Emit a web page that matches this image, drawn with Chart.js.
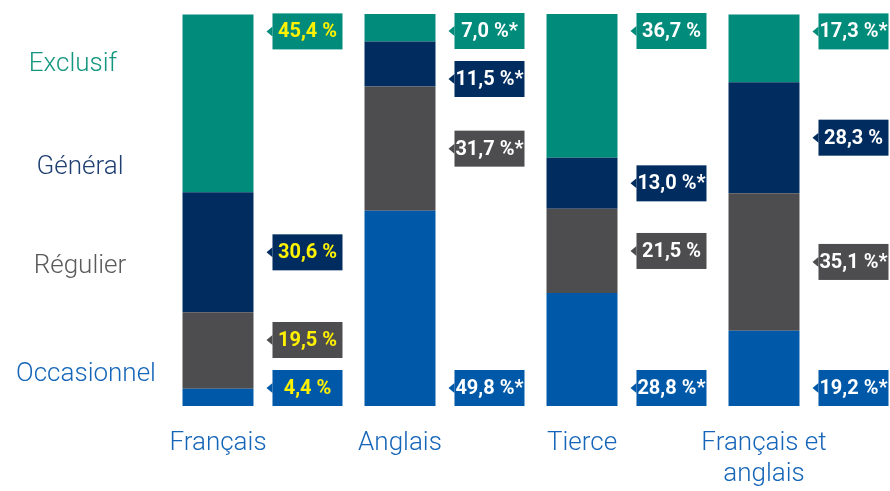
<!DOCTYPE html>
<html lang="fr">
<head>
<meta charset="utf-8">
<script src="https://cdn.jsdelivr.net/npm/chart.js@4.4.1/dist/chart.umd.min.js"></script>
<style>
    html, body { margin: 0; padding: 0; background: #fff; }
    #wrap { width: 890px; height: 491px; position: relative; }
</style>
</head>
<body>
<div id="wrap"><canvas id="chart"></canvas></div>
<script>
// Data
const categories = [['Français'], ['Anglais'], ['Tierce'], ['Français et', 'anglais']];
const seriesNames = ['Occasionnel', 'Régulier', 'Général', 'Exclusif'];
const occasionnel = [4.4, 49.8, 28.8, 19.2];
const regulier = [19.5, 31.7, 21.5, 35.1];
const general = [30.6, 11.5, 13.0, 28.3];
const exclusif = [45.4, 7.0, 36.7, 17.3];
// asterisk flags on the value labels
const occasionnelStar = [false, true, true, true];
const regulierStar = [false, true, false, true];
const generalStar = [false, true, true, false];
const exclusifStar = [false, true, false, true];

const colors = ['#0059a8', '#4d4d4f', '#002c5f', '#008b7b'];
const textColors = ['#1565b8', '#5a5a5c', '#1f3f73', '#13967f'];
const stars = [occasionnelStar, regulierStar, generalStar, exclusifStar];

function fmt(v, star) {
    return v.toFixed(1).replace('.', ',') + ' %' + (star ? '*' : '');
}

// Callout boxes to the right of each bar + series names on the left
const calloutPlugin = {
    id: 'callouts',
    afterDatasetsDraw(chart) {
        const ctx = chart.ctx;
        const boxW = 70, boxH = 36, gap = 12;

        for (let i = 0; i < categories.length; i++) {
            const bars = chart.data.datasets.map((ds, d) => chart.getDatasetMeta(d).data[i]);
            // centers, from top (Exclusif) to bottom (Occasionnel)
            const top = bars[3].y;
            const bottom = bars[0].base;
            const c = [];
            c[3] = top - 1 + boxH / 2;
            c[2] = (bars[2].y + bars[2].base) / 2;
            c[1] = (bars[1].y + bars[1].base) / 2;
            c[0] = bottom - boxH / 2;
            // push down from the top
            for (let d = 2; d >= 1; d--) {
                if (c[d] - boxH / 2 < c[d + 1] + boxH / 2 + gap) c[d] = c[d + 1] + boxH + gap;
            }
            // push up from the bottom
            for (let d = 1; d <= 2; d++) {
                if (c[d] + boxH / 2 > c[d - 1] - boxH / 2 - gap) c[d] = c[d - 1] - boxH - gap;
            }

            const bx = bars[0].x + bars[0].width / 2 + 19;
            for (let d = 0; d < 4; d++) {
                const cy = c[d];
                ctx.save();
                ctx.fillStyle = colors[d];
                ctx.fillRect(bx, cy - boxH / 2, boxW, boxH);
                ctx.beginPath();
                ctx.moveTo(bx, cy - 5);
                ctx.lineTo(bx - 6, cy);
                ctx.lineTo(bx, cy + 5);
                ctx.closePath();
                ctx.fill();
                ctx.fillStyle = i === 0 ? '#fff200' : '#ffffff';
                ctx.font = 'bold 20px Roboto';
                ctx.textAlign = 'center';
                ctx.textBaseline = 'middle';
                const val = chart.data.datasets[d].data[i];
                ctx.fillText(fmt(val, stars[d][i]), bx + boxW / 2, cy + 1);
                ctx.restore();
            }
        }

        // series names on the left
        const nameY = [374, 266, 167, 64];
        const nameX = [86, 80, 80, 73];
        ctx.save();
        ctx.font = '300 26px Roboto';
        ctx.textAlign = 'center';
        ctx.textBaseline = 'middle';
        for (let d = 0; d < 4; d++) {
            ctx.fillStyle = textColors[d];
            ctx.fillText(seriesNames[d], nameX[d], nameY[d]);
        }
        ctx.restore();
    }
};

const seriesData = [occasionnel, regulier, general, exclusif];

new Chart(document.getElementById('chart'), {
    type: 'bar',
    data: {
        labels: categories,
        datasets: seriesData.map((data, d) => ({
            label: seriesNames[d],
            data: data,
            backgroundColor: colors[d],
            borderWidth: 0,
            categoryPercentage: 1,
            barPercentage: 0.39
        }))
    },
    options: {
        responsive: true,
        maintainAspectRatio: false,
        animation: false,
        layout: { padding: { left: 127, right: 35, top: 14, bottom: 0 } },
        plugins: {
            legend: { display: false },
            tooltip: { enabled: false }
        },
        scales: {
            x: {
                stacked: true,
                grid: { display: false, drawTicks: false },
                border: { display: false },
                afterFit(scale) { scale.height = 85; },
                ticks: {
                    color: '#1565b8',
                    font: { family: 'Roboto', size: 26, weight: '300' },
                    padding: 22,
                    maxRotation: 0,
                    autoSkip: false
                }
            },
            y: {
                stacked: true,
                min: 0,
                max: 100,
                display: false
            }
        }
    },
    plugins: [calloutPlugin]
});
</script>
</body>
</html>
